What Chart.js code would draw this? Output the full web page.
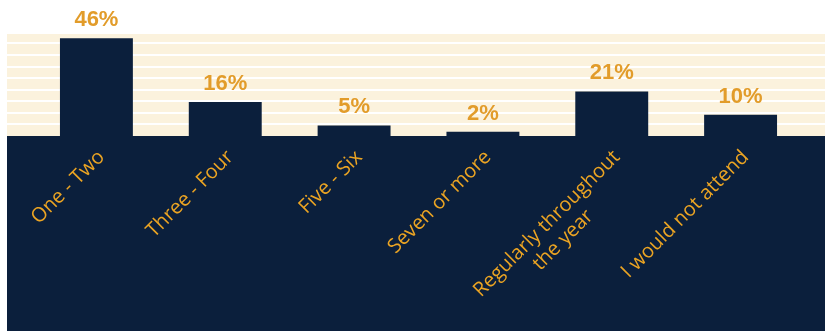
<!DOCTYPE html>
<html>
<head>
<meta charset="utf-8">
<script src="https://cdn.jsdelivr.net/npm/chart.js@4.4.1/dist/chart.umd.min.js"></script>
<style>
  html, body { margin: 0; padding: 0; background: #ffffff; }
  #wrap { width: 825px; height: 331px; position: relative; }
</style>
</head>
<body>
<div id="wrap"><canvas id="myChart"></canvas></div>
<script>
// categories and share of answers (%)
const categories = ['One - Two', 'Three - Four', 'Five - Six', 'Seven or more', ['Regularly throughout', 'the year'], 'I would not attend'];
const shares = [46, 16, 5, 2, 21, 10];
const valueLabels = ['46%', '16%', '5%', '2%', '21%', '10%'];
const stripeStep = 5.45;

const NAVY = '#0b1f3c';
const CREAM = '#fbf2dd';
const GOLD = '#e29c2a';
const ORANGE = '#eba423';

// striped panel behind the bars, navy band below them
const backdrop = {
  id: 'backdrop',
  beforeDatasetsDraw(chart) {
    const {ctx, chartArea, scales: {y}} = chart;
    const left = 7, right = chart.width;
    ctx.save();
    ctx.fillStyle = CREAM;
    ctx.fillRect(left, chartArea.top, right - left, chartArea.bottom - chartArea.top);
    ctx.fillStyle = '#ffffff';
    for (let v = stripeStep; v < y.max; v += stripeStep) {
      const py = y.getPixelForValue(v);
      ctx.fillRect(left, Math.round(py) - 1, right - left, 2);
    }
    ctx.fillStyle = NAVY;
    ctx.fillRect(left, chartArea.bottom, right - left, chart.height - chartArea.bottom);
    ctx.restore();
  }
};

// value on top of each bar + slanted category names
const labels = {
  id: 'labels',
  afterDatasetsDraw(chart) {
    const {ctx, chartArea, scales: {x}} = chart;
    const bars = chart.getDatasetMeta(0).data;
    ctx.save();
    ctx.fillStyle = GOLD;
    ctx.font = 'bold 22px "Liberation Sans", Arial, sans-serif';
    ctx.textAlign = 'center';
    ctx.textBaseline = 'alphabetic';
    bars.forEach((bar, i) => {
      ctx.fillText(valueLabels[i], bar.x, bar.y - 12);
    });

    ctx.fillStyle = ORANGE;
    ctx.font = '20px "Open Sans", sans-serif';
    ctx.textBaseline = 'middle';
    const lh = 23;
    categories.forEach((cat, i) => {
      const lines = Array.isArray(cat) ? cat : [cat];
      const maxW = Math.max(...lines.map(l => ctx.measureText(l).width));
      ctx.save();
      ctx.translate(x.getPixelForValue(i) + 5, chartArea.bottom + 18);
      ctx.rotate(-Math.PI / 4);
      lines.forEach((l, j) => {
        if (lines.length > 1) {
          ctx.textAlign = 'center';
          ctx.fillText(l, -maxW / 2, j * lh);
        } else {
          ctx.textAlign = 'right';
          ctx.fillText(l, 0, 0);
        }
      });
      ctx.restore();
    });
    ctx.restore();
  }
};

new Chart(document.getElementById('myChart').getContext('2d'), {
  type: 'bar',
  data: {
    labels: categories,
    datasets: [{
      data: shares,
      backgroundColor: NAVY,
      borderWidth: 0,
      barPercentage: 0.566,
      categoryPercentage: 1
    }]
  },
  options: {
    responsive: true,
    maintainAspectRatio: false,
    animation: false,
    layout: {
      padding: { left: 32, right: 20, top: 34, bottom: 195 }
    },
    scales: {
      x: { display: false },
      y: {
        display: false,
        min: 0,
        max: 48
      }
    },
    plugins: {
      legend: { display: false },
      tooltip: { enabled: false }
    }
  },
  plugins: [backdrop, labels]
});
</script>
</body>
</html>
